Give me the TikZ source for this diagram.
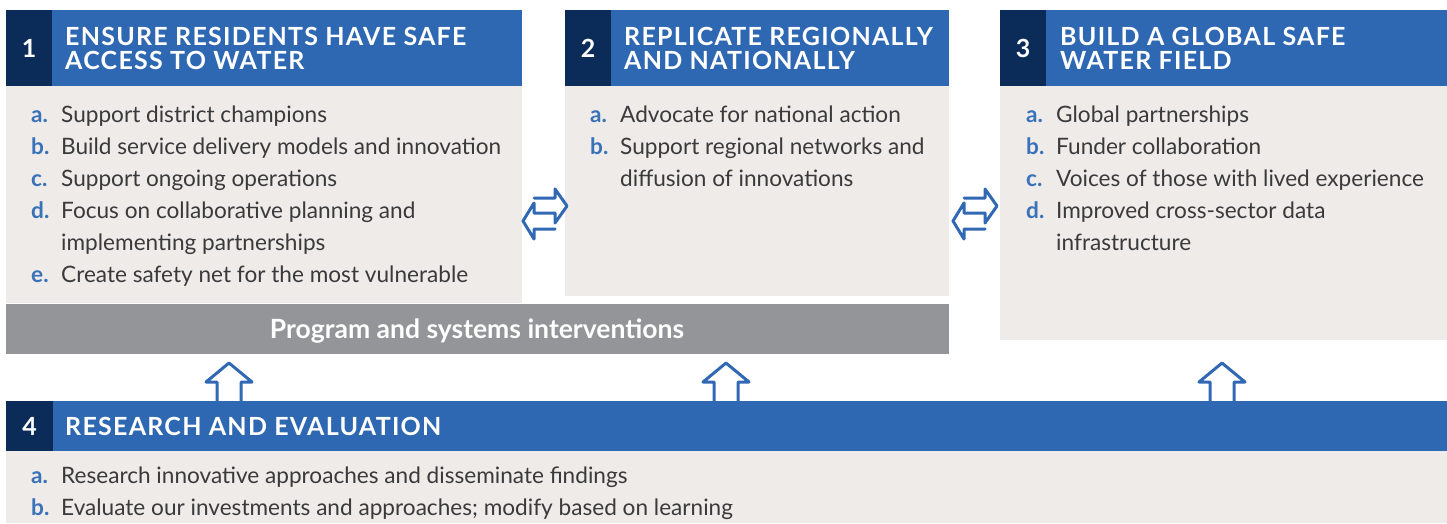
\documentclass[tikz,border=0pt]{standalone}
\usepackage{fontspec}
\setmainfont{Lato}
\newfontfamily\hdfont[LetterSpace=5]{Lato Bold}
\newfontfamily\bodyfont{Lato}
\newfontfamily\lblfont{Lato Bold}
\definecolor{hdblue}{HTML}{2F68B2}
\definecolor{hddark}{HTML}{0B2B58}
\definecolor{bodybg}{HTML}{EEEBE8}
\definecolor{barg}{HTML}{939598}
\definecolor{txt}{HTML}{3A3A3C}
\definecolor{lblblue}{HTML}{3A72BA}
\definecolor{arrblue}{HTML}{3068B4}
\tikzset{
  panel/.style={fill=#1, draw=none, inner sep=0pt, anchor=north west},
  hdtext/.style={anchor=base west, inner sep=0pt, text=white, font=\hdfont\fontsize{25}{26}\selectfont},
  numtext/.style={anchor=center, inner sep=0pt, text=white, font=\lblfont\fontsize{25}{26}\selectfont},
  item/.style={anchor=base west, inner sep=0pt, text=txt, font=\bodyfont\fontsize{22.6}{32}\selectfont},
  lbl/.style={anchor=base west, inner sep=0pt, text=lblblue, font=\lblfont\fontsize{22.6}{32}\selectfont},
  outl/.style={draw=arrblue, line width=3pt, line join=round, line cap=round},
  uparrow/.pic={\draw[outl] (-12,38) -- (-12,19) -- (-23,19) -- (0,0) -- (23,19) -- (12,19) -- (12,38);},
  dblarrow/.pic={\draw[outl] (11,9) -- (32,9) -- (32,0) -- (44,17) -- (32,34) -- (32,24) -- (11,24);
                 \draw[outl] (32,40) -- (11,40) -- (11,50) -- (0,32) -- (11,14) -- (11,24);}
}
\begin{document}
\begin{tikzpicture}[x=1pt,y=-1pt]
\useasboundingbox[fill=white] (0,0) rectangle (1447,523);
% panel 1
\node[panel=bodybg, minimum width=516pt, minimum height=217pt] (b1) at (6,86) {};
\node[panel=hdblue, minimum width=516pt, minimum height=76pt] (h1) at (6,10) {};
\node[panel=hddark, minimum width=46pt, minimum height=76pt] (n1) at (6,10) {};
% panel 2
\node[panel=bodybg, minimum width=384pt, minimum height=210pt] (b2) at (565,86) {};
\node[panel=hdblue, minimum width=384pt, minimum height=76pt] (h2) at (565,10) {};
\node[panel=hddark, minimum width=46pt, minimum height=76pt] (n2) at (565,10) {};
% panel 3
\node[panel=bodybg, minimum width=447pt, minimum height=254pt] (b3) at (1000,86) {};
\node[panel=hdblue, minimum width=447pt, minimum height=76pt] (h3) at (1000,10) {};
\node[panel=hddark, minimum width=46pt, minimum height=76pt] (n3) at (1000,10) {};
% gray bar
\node[panel=barg, minimum width=943pt, minimum height=50pt] (bar) at (6,304) {};
\node[anchor=base, inner sep=0pt, text=white, font=\lblfont\fontsize{26.5}{28}\selectfont] (bart) at (477,338) {Program and systems interventions};
% panel 4
\node[panel=bodybg, minimum width=1441pt, minimum height=72pt] (b4) at (6,451) {};
\node[panel=hdblue, minimum width=1441pt, minimum height=50pt] (h4) at (6,401) {};
\node[panel=hddark, minimum width=47pt, minimum height=50pt] (n4) at (6,401) {};

% headers
\node[numtext] (n1t) at (n1.center) {1};
\node[hdtext] (h1a) at (65,45) {ENSURE RESIDENTS HAVE SAFE};
\node[hdtext] (h1b) at (65,69) {ACCESS TO WATER};
\node[numtext] (n2t) at (n2.center) {2};
\node[hdtext] (h2a) at (624,45) {REPLICATE REGIONALLY};
\node[hdtext] (h2b) at (624,69) {AND NATIONALLY};
\node[numtext] (n3t) at (n3.center) {3};
\node[hdtext] (h3a) at (1060,45) {BUILD A GLOBAL SAFE};
\node[hdtext] (h3b) at (1060,69) {WATER FIELD};
\node[numtext] (n4t) at (n4.center) {4};
\node[hdtext] (h4a) at (65,435) {RESEARCH AND EVALUATION};

% panel 1 items
\node[lbl] (l1a) at (31,122) {a.}; \node[item] (t1a) at (61,122) {Support district champions};
\node[lbl] (l1b) at (31,154) {b.}; \node[item] (t1b) at (61,154) {Build service delivery models and innovation};
\node[lbl] (l1c) at (31,186) {c.}; \node[item] (t1c) at (61,186) {Support ongoing operations};
\node[lbl] (l1d) at (31,218) {d.}; \node[item] (t1d) at (61,218) {Focus on collaborative planning and};
\node[item] (t1d2) at (61,250) {implementing partnerships};
\node[lbl] (l1e) at (31,282) {e.}; \node[item] (t1e) at (61,282) {Create safety net for the most vulnerable};
% panel 2 items
\node[lbl] (l2a) at (590,122) {a.}; \node[item] (t2a) at (620,122) {Advocate for national action};
\node[lbl] (l2b) at (590,154) {b.}; \node[item] (t2b) at (620,154) {Support regional networks and};
\node[item] (t2b2) at (620,186) {diffusion of innovations};
% panel 3 items
\node[lbl] (l3a) at (1026,122) {a.}; \node[item] (t3a) at (1056,122) {Global partnerships};
\node[lbl] (l3b) at (1026,154) {b.}; \node[item] (t3b) at (1056,154) {Funder collaboration};
\node[lbl] (l3c) at (1026,186) {c.}; \node[item] (t3c) at (1056,186) {Voices of those with lived experience};
\node[lbl] (l3d) at (1026,218) {d.}; \node[item] (t3d) at (1056,218) {Improved cross-sector data};
\node[item] (t3d2) at (1056,250) {infrastructure};
% panel 4 items
\node[lbl] (l4a) at (31,483) {a.}; \node[item] (t4a) at (61,483) {Research innovative approaches and disseminate findings};
\node[lbl] (l4b) at (31,515) {b.}; \node[item] (t4b) at (61,515) {Evaluate our investments and approaches; modify based on learning};

% arrows
\pic at (229,363) {uparrow};
\pic at (726,363) {uparrow};
\pic at (1222,363) {uparrow};
\pic at (523,189) {dblarrow};
\pic at (953,189) {dblarrow};
\end{tikzpicture}
\end{document}
